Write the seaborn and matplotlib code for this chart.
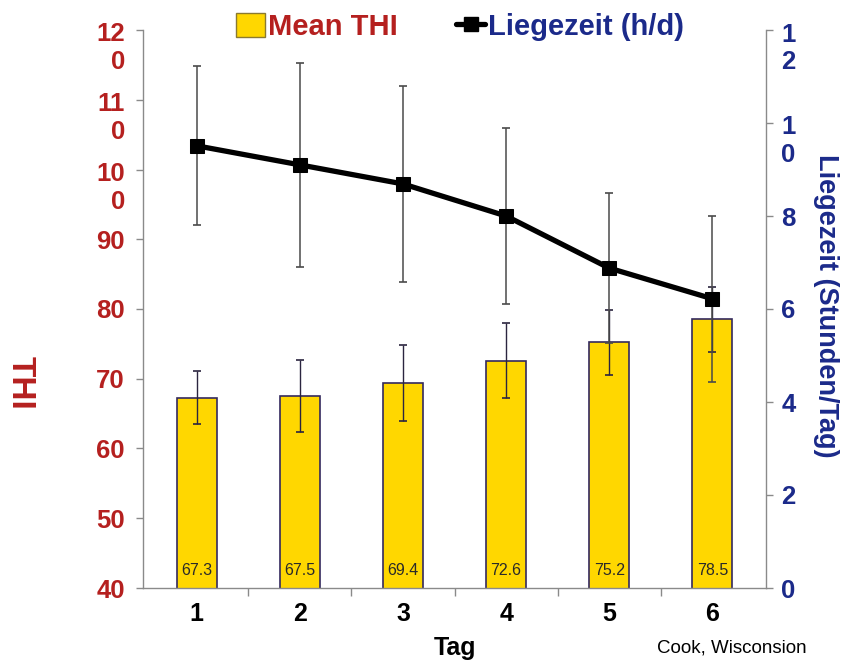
import matplotlib
matplotlib.use("Agg")
import matplotlib.pyplot as plt
import matplotlib.transforms as mtrans
from matplotlib.patches import Patch
from matplotlib.lines import Line2D
import seaborn as sns
import numpy as np

# ---- data ----
days = ["1", "2", "3", "4", "5", "6"]
thi_mean = [67.3, 67.5, 69.4, 72.6, 75.2, 78.5]
thi_err = [3.8, 5.2, 5.4, 5.4, 4.6, 4.6]
liege_hours = [9.51, 9.10, 8.69, 8.00, 6.88, 6.22]
liege_err = [1.71, 2.20, 2.10, 1.89, 1.61, 1.79]
left_ticks = [40, 50, 60, 70, 80, 90, 100, 110, 120]
left_labels = ["40", "50", "60", "70", "80", "90", "10\n0", "11\n0", "12\n0"]
right_ticks = [0, 2, 4, 6, 8, 10, 12]
right_labels = ["0", "2", "4", "6", "8", "1\n0", "1\n2"]

RED = "#B5201F"
BLUE = "#1B2A8A"
YELLOW = "#FFD700"
GRAY = "#8A8A8A"

sns.set_theme(style="white")
plt.rcParams["font.family"] = ["Liberation Sans", "DejaVu Sans"]

fig = plt.figure(figsize=(8.42, 6.63), dpi=100)
ax = fig.add_axes([143 / 842, 1 - 588 / 663, (766 - 143) / 842, (588 - 30) / 663])

x = np.arange(len(days))
sns.barplot(x=days, y=thi_mean, ax=ax, color=YELLOW, width=0.39,
            edgecolor="#33295E", linewidth=1.2, saturation=1, errorbar=None)
ax.errorbar(x, thi_mean, yerr=thi_err, fmt="none", ecolor="#2B2540",
            elinewidth=1.0, capsize=3, capthick=1.2, zorder=4)

for xi, v in zip(x, thi_mean):
    ax.text(xi, 42.5, f"{v}", ha="center", va="center", fontsize=11.5,
            color="#2A2A2A", family=["Liberation Sans Narrow", "Liberation Sans"])

ax.set_ylim(40, 120)
ax.set_xlim(-0.52, 5.52)
ax.set_yticks(left_ticks, left_labels)
ax.set_xticks(x, days)
ax.set_xticks(np.arange(0.5, 5.0, 1.0), minor=True)
ax.tick_params(axis="x", which="major", length=0, pad=10, labelsize=18,
               labelcolor="black")
ax.tick_params(axis="x", which="minor", length=6, width=1, color=GRAY,
               direction="out", bottom=True)
ax.tick_params(axis="y", length=5, width=1, color=GRAY, direction="out",
               left=True, labelsize=18.5, labelcolor=RED, pad=8)
for lab in ax.get_xticklabels():
    lab.set_fontweight("bold")
for lab in ax.get_yticklabels():
    lab.set_fontweight("bold")
    lab.set_linespacing(1.2)
    if "\n" in lab.get_text():
        lab.set_transform(lab.get_transform() +
                          mtrans.ScaledTranslation(0, -14 / 100, fig.dpi_scale_trans))

for side in ["top", "right"]:
    ax.spines[side].set_visible(False)
for side in ["left", "bottom"]:
    ax.spines[side].set_color(GRAY)
    ax.spines[side].set_linewidth(1)
ax.set_ylabel("")
ax.set_xlabel("")

# ---- twin axis line ----
ax2 = ax.twinx()
ax2.errorbar(x, liege_hours, yerr=liege_err, fmt="none", ecolor="#4A4A4A",
             elinewidth=1.1, capsize=3, capthick=1.2, zorder=3)
sns.lineplot(x=x, y=liege_hours, ax=ax2, color="black", linewidth=3.8,
             marker="s", markersize=10, markeredgecolor="black", zorder=5)
ax2.set_ylim(0, 12)
ax2.set_yticks(right_ticks, right_labels)
ax2.tick_params(axis="y", length=5, width=1, color=GRAY, direction="out",
                right=True, labelsize=18.5, labelcolor=BLUE, pad=6)
for lab in ax2.get_yticklabels():
    lab.set_fontweight("bold")
    lab.set_linespacing(1.2)
    if "\n" in lab.get_text():
        lab.set_transform(lab.get_transform() +
                          mtrans.ScaledTranslation(0, -14 / 100, fig.dpi_scale_trans))
for side in ["top", "left", "bottom"]:
    ax2.spines[side].set_visible(False)
ax2.spines["right"].set_color(GRAY)
ax2.spines["right"].set_linewidth(1)
ax2.set_ylabel("")

# ---- labels ----
fig.text(20 / 842, 1 - 383 / 663, "THI", rotation=-90, ha="center", va="center",
         fontsize=24, fontweight="bold", color=RED)
fig.text(826 / 842, 1 - 306 / 663, "Liegezeit (Stunden/Tag)", rotation=-90,
         ha="center", va="center", fontsize=19.5, fontweight="bold", color=BLUE)
fig.text(455 / 842, 1 - 648 / 663, "Tag", ha="center", va="center",
         fontsize=18, fontweight="bold", color="black")
fig.text(732 / 842, 1 - 648 / 663, "Cook, Wisconsion", ha="center", va="center",
         fontsize=13.5, color="black")

# ---- legend ----
handles = [
    Patch(facecolor=YELLOW, edgecolor="#8A7A30", linewidth=1.0),
    Line2D([0], [0], color="black", linewidth=3.8, marker="s", markersize=10),
]
leg = fig.legend(handles, ["Mean THI", "Liegezeit (h/d)"], loc="center",
                 bbox_to_anchor=(460 / 842, 1 - 27 / 663), ncol=2, frameon=False,
                 handlelength=1.0, handleheight=0.9, handletextpad=0.1,
                 columnspacing=2.0, prop={"size": 21, "weight": "bold"})
for txt, col in zip(leg.get_texts(), [RED, BLUE]):
    txt.set_color(col)

fig.savefig("out.png", dpi=100, facecolor="white")
